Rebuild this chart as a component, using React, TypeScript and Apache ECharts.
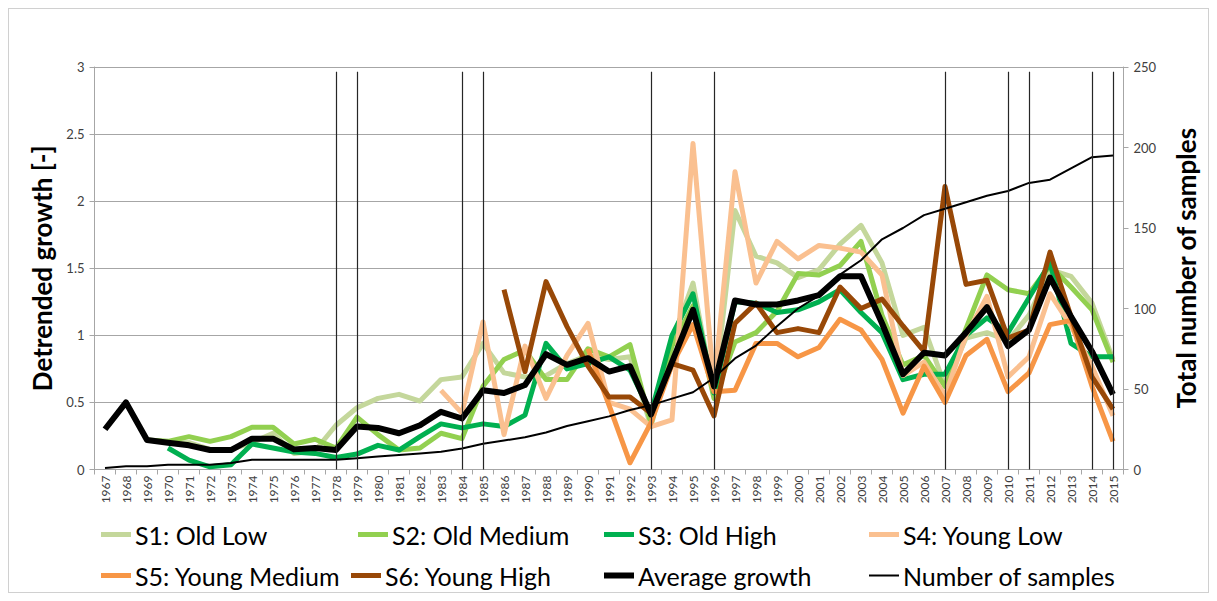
import React, { useEffect, useRef } from "react";
import * as echarts from "echarts";

// Years on the category axis
const years = [
  "1967", "1968", "1969", "1970", "1971", "1972", "1973", "1974", "1975", "1976",
  "1977", "1978", "1979", "1980", "1981", "1982", "1983", "1984", "1985", "1986",
  "1987", "1988", "1989", "1990", "1991", "1992", "1993", "1994", "1995", "1996",
  "1997", "1998", "1999", "2000", "2001", "2002", "2003", "2004", "2005", "2006",
  "2007", "2008", "2009", "2010", "2011", "2012", "2013", "2014", "2015",
];

// Years marked with a vertical reference line
const markedYears = ["1978", "1979", "1984", "1985", "1993", "1996", "2007", "2010", "2011", "2014", "2015"];

const _ = null;

// Detrended growth per stand type (null = no data for that year)
const s1OldLow = [
  _, _, _, 0.2, 0.2, 0.15, 0.15, 0.2, 0.27, 0.12,
  0.14, 0.33, 0.46, 0.53, 0.56, 0.51, 0.67, 0.69, 0.94, 0.72,
  0.69, 0.7, 0.79, 0.85, 0.82, 0.84, 0.32, 0.95, 1.39, 0.55,
  1.93, 1.59, 1.54, 1.43, 1.49, 1.68, 1.82, 1.54, 1.0, 1.06,
  0.62, 0.98, 1.02, 0.96, 1.15, 1.49, 1.44, 1.24, 0.82,
];
const s2OldMedium = [
  _, _, 0.22, 0.21, 0.245, 0.21, 0.245, 0.315, 0.315, 0.19,
  0.225, 0.16, 0.39, 0.26, 0.145, 0.16, 0.27, 0.23, 0.62, 0.82,
  0.89, 0.67, 0.67, 0.9, 0.84, 0.93, 0.34, 0.92, 1.22, 0.53,
  0.95, 1.02, 1.18, 1.46, 1.45, 1.52, 1.7, 1.15, 0.78, 0.85,
  0.62, 1.05, 1.45, 1.34, 1.31, 1.52, 1.36, 1.19, 0.8,
];
const s3OldHigh = [
  _, _, _, 0.16, 0.07, 0.02, 0.035, 0.19, 0.16, 0.13,
  0.12, 0.09, 0.115, 0.18, 0.145, 0.245, 0.34, 0.31, 0.34, 0.32,
  0.405, 0.94, 0.75, 0.79, 0.84, 0.74, 0.42, 1.0, 1.31, 0.57,
  1.25, 1.24, 1.17, 1.19, 1.25, 1.34, 1.17, 1.02, 0.67, 0.71,
  0.71, 1.0, 1.13, 1.02, 1.28, 1.54, 0.94, 0.84, 0.84,
];
const s4YoungLow = [
  _, _, _, _, _, _, _, _, _, _,
  _, _, _, _, _, _, 0.59, 0.42, 1.1, 0.26,
  0.92, 0.53, 0.85, 1.09, 0.5, 0.45, 0.32, 0.37, 2.43, 0.62,
  2.22, 1.39, 1.7, 1.57, 1.67, 1.65, 1.62, 1.45, 0.7, 0.8,
  0.55, 1.0, 1.29, 0.69, 0.84, 1.31, 1.07, 0.77, 0.4,
];
const s5YoungMedium = [
  _, _, _, _, _, _, _, _, _, _,
  _, _, _, _, _, _, _, _, _, _,
  _, _, _, 0.9, 0.48, 0.05, 0.35, 0.78, 1.08, 0.58,
  0.59, 0.94, 0.94, 0.84, 0.91, 1.12, 1.04, 0.82, 0.42, 0.77,
  0.5, 0.85, 0.97, 0.58, 0.72, 1.08, 1.11, 0.62, 0.21,
];
const s6YoungHigh = [
  _, _, _, _, _, _, _, _, _, _,
  _, _, _, _, _, _, _, _, _, 1.34,
  0.73, 1.4, 1.065, 0.77, 0.54, 0.54, 0.42, 0.79, 0.74, 0.4,
  1.09, 1.24, 1.02, 1.05, 1.02, 1.36, 1.2, 1.27, 1.07, 0.88,
  2.11, 1.38, 1.41, 0.98, 1.04, 1.62, 1.14, 0.69, 0.45,
];
const averageGrowth = [
  0.3, 0.5, 0.22, 0.2, 0.18, 0.145, 0.145, 0.23, 0.23, 0.15,
  0.16, 0.145, 0.32, 0.31, 0.27, 0.33, 0.43, 0.38, 0.59, 0.57,
  0.63, 0.86, 0.78, 0.83, 0.73, 0.77, 0.41, 0.8, 1.19, 0.62,
  1.26, 1.23, 1.23, 1.26, 1.3, 1.44, 1.44, 1.09, 0.71, 0.87,
  0.85, 1.02, 1.21, 0.92, 1.04, 1.43, 1.14, 0.88, 0.56,
];
// Total number of samples (right axis)
const numberOfSamples = [
  1, 2, 2, 3, 3, 3, 4, 6, 6, 6,
  6, 6, 7, 8, 9, 10, 11, 13, 16, 18,
  20, 23, 27, 30, 33, 37, 40, 44, 48, 57,
  69, 77, 89, 100, 108, 121, 130, 143, 150, 158,
  162, 166, 170, 173, 178, 180, 187, 194, 195,
];

const growthTicks = { min: 0, max: 3, interval: 0.5 };
const sampleTicks = { min: 0, max: 250, interval: 50 };

const FONT = "Lato, 'Open Sans', sans-serif";

const stands = [
  { name: "S1: Old Low", data: s1OldLow, color: "#C4D79B" },
  { name: "S2: Old Medium", data: s2OldMedium, color: "#92D050" },
  { name: "S3: Old High", data: s3OldHigh, color: "#00B050" },
  { name: "S4: Young Low", data: s4YoungLow, color: "#FAC090" },
  { name: "S5: Young Medium", data: s5YoungMedium, color: "#F79646" },
  { name: "S6: Young High", data: s6YoungHigh, color: "#984807" },
];

// Legend placement: one legend block per entry, two rows of four
const legendSlots = [
  { left: 92, top: 513 },
  { left: 349, top: 513 },
  { left: 595, top: 513 },
  { left: 860, top: 513 },
  { left: 92, top: 554 },
  { left: 342, top: 554 },
  { left: 595, top: 554 },
  { left: 860, top: 554 },
];

export default function App() {
  const ref = useRef<HTMLDivElement>(null);

  useEffect(() => {
    if (!ref.current) return;
    const chart = echarts.init(ref.current, null, { renderer: "svg" });

    const legendEntries = [
      ...stands.map((s) => ({ name: s.name, color: s.color, h: 5 })),
      { name: "Average growth", color: "#000000", h: 6 },
      { name: "Number of samples", color: "#000000", h: 2 },
    ];

    const legends = legendEntries.map((e, i) => ({
      data: [{ name: e.name, icon: "rect", itemStyle: { color: e.color } }],
      left: legendSlots[i].left,
      top: legendSlots[i].top,
      padding: 0,
      itemWidth: 30,
      itemHeight: e.h,
      selectedMode: false,
      textStyle: { fontFamily: FONT, fontSize: 25, color: "#000000", padding: [0, 0, 0, -1] },
    }));

    const lineBase = {
      type: "line",
      showSymbol: false,
      symbol: "none",
      connectNulls: false,
      silent: true,
    };

    const standSeries = stands.map((s) => ({
      ...lineBase,
      name: s.name,
      data: s.data,
      yAxisIndex: 0,
      itemStyle: { color: s.color },
      lineStyle: { color: s.color, width: 5, join: "round", cap: "butt" },
    }));

    const option = {
      animation: false,
      backgroundColor: "#ffffff",
      legend: legends,
      grid: { left: 85.5, right: 84.5, top: 58, bottom: 122.5, containLabel: false },
      xAxis: {
        type: "category",
        data: years,
        boundaryGap: true,
        axisLine: { show: true, lineStyle: { color: "#A6A6A6", width: 1 } },
        axisTick: { show: true, alignWithLabel: false, length: 5, lineStyle: { color: "#A6A6A6" } },
        axisLabel: {
          interval: 0,
          rotate: 90,
          fontFamily: FONT,
          fontSize: 12,
          color: "#404040",
          margin: 6,
        },
        splitLine: { show: false },
      },
      yAxis: [
        {
          type: "value",
          ...growthTicks,
          name: "Detrended growth [-]",
          nameLocation: "middle",
          nameGap: 40,
          nameTextStyle: { fontFamily: FONT, fontSize: 26, fontWeight: "bold", color: "#000000" },
          axisLine: { show: true, lineStyle: { color: "#A6A6A6", width: 1 } },
          axisTick: { show: true, length: 5, lineStyle: { color: "#A6A6A6" } },
          axisLabel: { fontFamily: FONT, fontSize: 13, color: "#404040", margin: 10 },
          splitLine: { show: true, lineStyle: { color: "#A6A6A6", width: 1 } },
        },
        {
          type: "value",
          ...sampleTicks,
          position: "right",
          name: "Total number of samples",
          nameLocation: "middle",
          nameGap: 49,
          nameTextStyle: { fontFamily: FONT, fontSize: 26, fontWeight: "bold", color: "#000000" },
          axisLine: { show: true, lineStyle: { color: "#A6A6A6", width: 1 } },
          axisTick: { show: true, length: 5, lineStyle: { color: "#A6A6A6" } },
          axisLabel: { fontFamily: FONT, fontSize: 13, color: "#404040", margin: 10 },
          splitLine: { show: false },
        },
      ],
      series: [
        {
          type: "line",
          name: "reference years",
          data: [],
          yAxisIndex: 0,
          silent: true,
          markLine: {
            silent: true,
            symbol: ["none", "none"],
            label: { show: false },
            lineStyle: { color: "#262626", width: 1.2, type: "solid" },
            data: markedYears.map((y) => [{ coord: [y, 2.965] }, { coord: [y, 0] }]),
          },
        },
        ...standSeries,
        {
          ...lineBase,
          name: "Average growth",
          data: averageGrowth,
          yAxisIndex: 0,
          itemStyle: { color: "#000000" },
          lineStyle: { color: "#000000", width: 6, join: "round" },
        },
        {
          ...lineBase,
          name: "Number of samples",
          data: numberOfSamples,
          yAxisIndex: 1,
          itemStyle: { color: "#000000" },
          lineStyle: { color: "#000000", width: 2, join: "round" },
        },
      ],
    };

    chart.setOption(option as any);
    return () => chart.dispose();
  }, []);

  return (
    <div
      style={{
        width: 1201,
        height: 585,
        boxSizing: "border-box",
        border: "1px solid #D0D0D0",
        background: "#ffffff",
      }}
    >
      <div ref={ref} style={{ width: 1199, height: 583 }} />
    </div>
  );
}
